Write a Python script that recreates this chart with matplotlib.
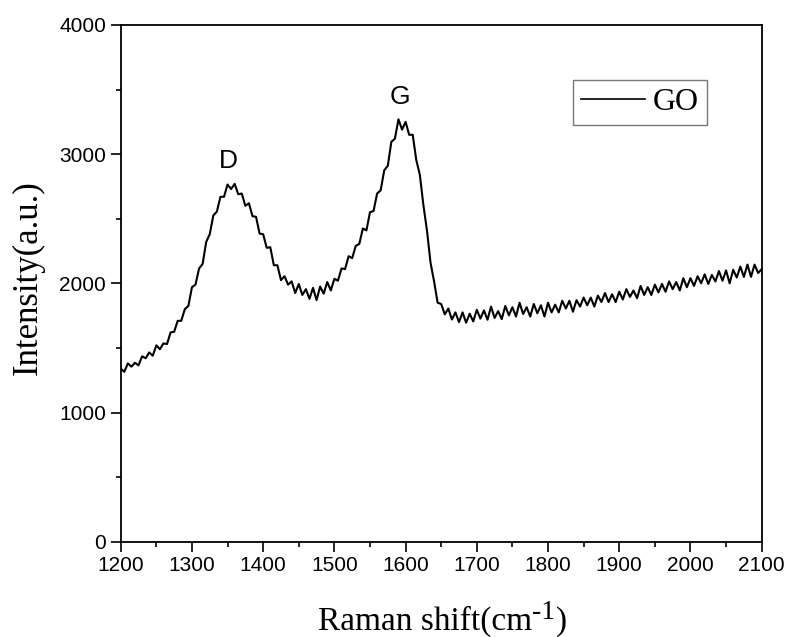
import numpy as np
import matplotlib
matplotlib.use("Agg")
import matplotlib.pyplot as plt
from matplotlib.ticker import MultipleLocator

# Raman shift grid (cm^-1) and intensity
shift_start, shift_stop, shift_step = 1200, 2100, 5
intensity = [
    1340, 1315, 1380, 1355, 1385, 1365, 1435, 1420, 1465, 1440,
    1520, 1490, 1535, 1530, 1620, 1625, 1710, 1710, 1800, 1825,
    1970, 1990, 2115, 2150, 2320, 2380, 2525, 2555, 2670, 2670,
    2765, 2730, 2770, 2690, 2695, 2600, 2620, 2520, 2515, 2385,
    2380, 2275, 2280, 2140, 2140, 2025, 2055, 1990, 2015, 1925,
    1995, 1910, 1955, 1880, 1965, 1870, 1975, 1920, 2010, 1945,
    2035, 2020, 2115, 2110, 2210, 2195, 2290, 2305, 2425, 2410,
    2550, 2560, 2695, 2720, 2875, 2910, 3095, 3120, 3270, 3190,
    3250, 3150, 3150, 2955, 2840, 2605, 2410, 2160, 2015, 1850,
    1840, 1760, 1805, 1720, 1775, 1700, 1775, 1695, 1765, 1705,
    1795, 1727, 1790, 1718, 1820, 1732, 1785, 1723, 1825, 1752,
    1815, 1743, 1850, 1763, 1815, 1743, 1840, 1768, 1830, 1743,
    1850, 1775, 1835, 1775, 1865, 1805, 1865, 1780, 1870, 1820,
    1890, 1830, 1890, 1820, 1905, 1855, 1925, 1855, 1915, 1855,
    1935, 1875, 1955, 1895, 1945, 1885, 1980, 1910, 1970, 1910,
    1990, 1930, 1995, 1935, 2015, 1955, 2010, 1945, 2040, 1970,
    2040, 1980, 2055, 2000, 2070, 1995, 2065, 2015, 2095, 2020,
    2100, 2000, 2105, 2045, 2130, 2050, 2145, 2050, 2145, 2080,
    2110,
]
raman_shift = np.arange(shift_start, shift_stop + 1, shift_step)

peak_labels = ["D", "G"]
peak_x = [1351, 1592]
peak_y = [2946, 3442]

x_ticks = [1200, 1300, 1400, 1500, 1600, 1700, 1800, 1900, 2000, 2100]
y_ticks = [0, 1000, 2000, 3000, 4000]

W, H = 788, 637
fig = plt.figure(figsize=(W / 100, H / 100), dpi=100)
ax = fig.add_axes([0.1532, 0.1496, 0.8134, 0.8112])

ax.plot(raman_shift, intensity, color='black', lw=1.5, label='GO')

ax.set_xlim(1200, 2100)
ax.set_ylim(0, 4000)
ax.set_xticks(x_ticks)
ax.set_yticks(y_ticks)
ax.xaxis.set_minor_locator(MultipleLocator(50))
ax.yaxis.set_minor_locator(MultipleLocator(500))
ax.tick_params(which='major', direction='out', length=7, width=1.2,
               labelsize=15, top=False, right=False)
ax.tick_params(which='minor', direction='out', length=3.6, width=1.2,
               top=False, right=False)
for lab in ax.get_xticklabels() + ax.get_yticklabels():
    lab.set_family('Liberation Sans')
for sp in ax.spines.values():
    sp.set_linewidth(1.3)

# y label
fig.text(28 / W, 1 - 278 / H, 'Intensity(a.u.)', rotation=90, fontsize=25,
         family='Liberation Serif', ha='center', va='center')

# x label built from pieces so the superscript matches the original
parts = [('Raman shift(cm', 24, 0), ('-1', 20, 11), (')', 24, 0)]
texts = []
for s, fs, dy in parts:
    t = fig.text(0, (7 + dy) / H, s, fontsize=fs, family='Liberation Serif',
                 ha='left', va='baseline')
    texts.append(t)
fig.canvas.draw()
rend = fig.canvas.get_renderer()
widths = [t.get_window_extent(rend).width for t in texts]
x0 = 442.5 - sum(widths) / 2
for t, w in zip(texts, widths):
    t.set_x(x0 / W)
    x0 += w

for lab, px, py in zip(peak_labels, peak_x, peak_y):
    ax.text(px, py, lab, fontsize=19, family='Liberation Sans', ha='center', va='center')

leg = ax.legend(loc='upper left', bbox_to_anchor=((573 - 120.7) / 641, (541.7 - 80) / 516.7),
                borderaxespad=0, fancybox=False, frameon=True,
                handlelength=2.0, handletextpad=0.25, borderpad=0.25,
                prop={'family': 'Liberation Serif', 'size': 23})
leg.get_frame().set_edgecolor('#555555')
leg.get_frame().set_linewidth(1.0)
leg.get_lines()[0].set_linewidth(1.2)

fig.savefig('out.png', dpi=100)
